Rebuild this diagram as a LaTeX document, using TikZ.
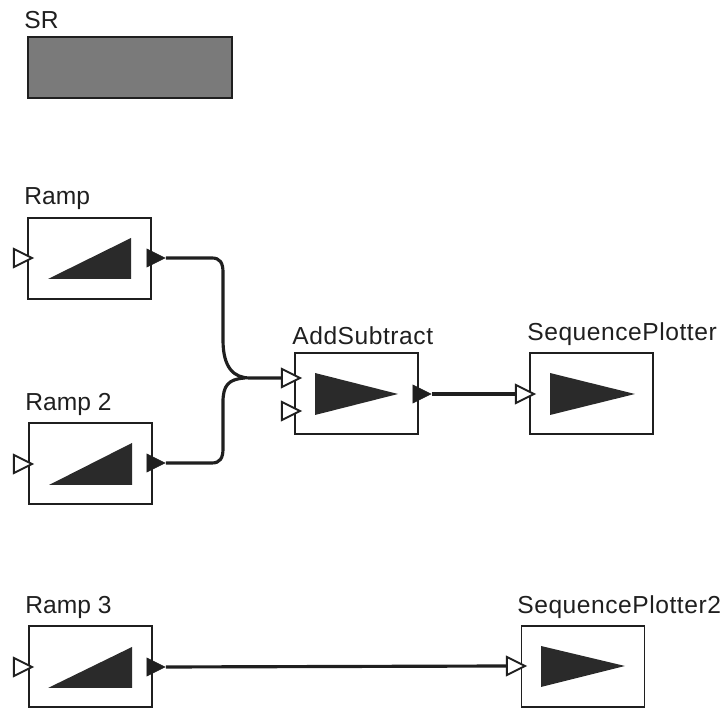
\documentclass[tikz,border=0pt]{standalone}
\usepackage{fontspec}
\setmainfont{Liberation Sans}
\usetikzlibrary{shapes.geometric}
\newcommand\portlen{0.36cm}
\definecolor{ink}{gray}{0.12}
\tikzset{
  block/.style={draw=ink,line width=1pt,minimum width=2.46cm,minimum height=1.62cm,inner sep=0pt},
  srblock/.style={draw=ink,line width=1.5pt,fill=black!52,minimum width=4.08cm,minimum height=1.22cm,inner sep=0pt},
  inport/.style={draw=ink,line width=1.1pt,fill=white,isosceles triangle,isosceles triangle stretches,shape border rotate=0,inner sep=0pt,minimum width=\portlen,minimum height=\portlen},
  outport/.style={inport,fill=ink,line width=0.4pt},
  wire/.style={draw=ink,line width=1.8pt},
  lbl/.style={anchor=base west,inner sep=0pt,text=ink,font=\fontsize{14}{16}\selectfont},
  widelbl/.style={lbl,font=\fontsize{14}{16}\selectfont\addfontfeature{LetterSpace=2.2}},
  icon/.style={fill=ink!95}
}
\begin{document}
\begin{tikzpicture}[x=0.02cm,y=-0.02cm]
    \useasboundingbox (0,0) rectangle (725,709);
    \node (SR) at (130,67.5) [srblock] {};
    \node (RampBox) at (89.5,258.5) [block] {};
    \node (RampTwoBox) at (90.5,463.5) [block] {};
    \node (RampThreeBox) at (90.5,666.5) [block] {};
    \node (AddBox) at (356.5,393.5) [block] {};
    \node (PlotBox) at (591.5,393.5) [block] {};
    \node (PlotTwoBox) at (583,666.5) [block] {};
    % labels
    \node (SRL) at (24,29) [lbl] {SR};
    \node (RampL) at (24,205) [lbl] {Ramp};
    \node (RampTwoL) at (25,411) [lbl] {Ramp 2};
    \node (RampThreeL) at (25,614) [lbl] {Ramp 3};
    \node (AddL) at (292,345) [widelbl] {AddSubtract};
    \node (PlotL) at (527,341) [widelbl] {SequencePlotter};
    \node (PlotTwoL) at (517,614) [widelbl] {SequencePlotter2};
    % icons
    \fill[icon] (48,279) -- (131,238) -- (131,279) -- cycle;
    \fill[icon] (49,485) -- (132,443) -- (132,485) -- cycle;
    \fill[icon] (48,688) -- (132,647) -- (132,688) -- cycle;
    \fill[icon] (315,373) -- (398,394) -- (315,415) -- cycle;
    \fill[icon] (550,373) -- (635,394) -- (550,415) -- cycle;
    \fill[icon] (541,646) -- (625,666) -- (541,687) -- cycle;
    % ports
    \node (RampIn) at (19.5,258) [inport] {};
    \node (RampOut) at (152.5,258) [outport] {};
    \node (RampTwoIn) at (19.5,464) [inport] {};
    \node (RampTwoOut) at (152.5,463) [outport] {};
    \node (RampThreeIn) at (19.5,667) [inport] {};
    \node (RampThreeOut) at (152.5,667) [outport] {};
    \node (AddInA) at (287.5,378) [inport] {};
    \node (AddInB) at (287.5,411) [inport] {};
    \node (AddOut) at (418.5,394) [outport] {};
    \node (PlotIn) at (521.5,394) [inport] {};
    \node (PlotTwoIn) at (512.5,666) [inport] {};
    % wires
    \draw[wire] (RampOut.apex) -- (212,258) .. controls (220,258) and (223,263) .. (223,272) -- (223,340) .. controls (223,368) and (234,378) .. (250,378) -- (AddInA.lower side);
    \draw[wire] (RampTwoOut.apex) -- (212,463) .. controls (220,463) and (223,458) .. (223,449) -- (223,402) .. controls (223,386) and (228,379) .. (245,378);
    \draw[wire] (AddOut.apex) to (PlotIn.lower side);
    \draw[wire] (RampThreeOut.apex) to (PlotTwoIn.lower side);
  \end{tikzpicture}
\end{document}
